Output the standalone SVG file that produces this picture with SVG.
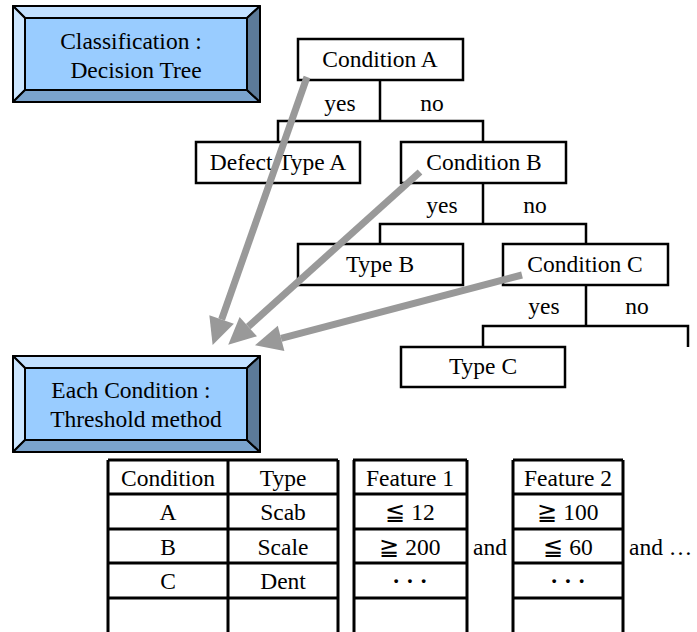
<svg xmlns="http://www.w3.org/2000/svg" xmlns:xlink="http://www.w3.org/1999/xlink" width="697" height="632" viewBox="0 0 697 632">
<style>
text{font-family:"Liberation Serif","Times New Roman",serif;font-size:23.5px;fill:#000}
.c{text-anchor:middle}
.box{fill:#fff;stroke:#000;stroke-width:2.5}
.ln{fill:none;stroke:#000;stroke-width:2.5}
.tb{fill:none;stroke:#000;stroke-width:3}
.ar{fill:none;stroke:#999;stroke-width:7}
.bv{stroke:#000;stroke-width:2;stroke-linejoin:round}
.dots{font-weight:bold}
</style>
<defs>
<marker id="ah" markerUnits="userSpaceOnUse" markerWidth="40" markerHeight="40" refX="0" refY="14" orient="auto" viewBox="0 0 40 40" overflow="visible">
<path d="M0,1 L27,14 L0,27 z" fill="#999"/>
</marker>
<g id="bevel">
<polygon class="bv" points="13,6 260,6 247,18 25,18" fill="#C2E0FF"/>
<polygon class="bv" points="13,6 25,18 25,90 13,102" fill="#CCE6FF"/>
<polygon class="bv" points="13,102 25,90 247,90 260,102" fill="#7AA3CC"/>
<polygon class="bv" points="260,6 260,102 247,90 247,18" fill="#5C7A99"/>
<rect class="bv" x="25" y="18" width="222" height="72" fill="#99CCFF"/>
</g>
</defs>

<g id="title-classification">
<use xlink:href="#bevel"/>
<text class="c" x="131" y="49">Classification :</text>
<text class="c" x="136" y="78">Decision Tree</text>
</g>

<g id="title-threshold">
<use xlink:href="#bevel" y="350"/>
<text class="c" x="131" y="398">Each Condition :</text>
<text class="c" x="136" y="427">Threshold method</text>
</g>

<g id="connectors">
<path class="ln" d="M380,80 V121 M278,142 V121 H483 V142"/>
<path class="ln" d="M483,183 V224 M380,244 V224 H586 V244"/>
<path class="ln" d="M586,285 V326 M483,347 V326 H688 V347"/>
<text class="c" x="340" y="111">yes</text>
<text class="c" x="432" y="111">no</text>
<text class="c" x="442" y="213">yes</text>
<text class="c" x="535" y="213">no</text>
<text class="c" x="544" y="314">yes</text>
<text class="c" x="637" y="314">no</text>
</g>

<g id="condition-a"><rect class="box" x="298" y="39" width="165" height="41"/><text class="c" x="380" y="67">Condition A</text></g>
<g id="defect-type-a"><rect class="box" x="196" y="142" width="164" height="41"/><text class="c" x="278" y="170">Defect Type A</text></g>
<g id="condition-b"><rect class="box" x="401" y="142" width="165" height="41"/><text class="c" x="484" y="170">Condition B</text></g>
<g id="type-b"><rect class="box" x="298" y="244" width="165" height="41"/><text class="c" x="380" y="272">Type B</text></g>
<g id="condition-c"><rect class="box" x="503" y="244" width="165" height="41"/><text class="c" x="585" y="272">Condition C</text></g>
<g id="type-c"><rect class="box" x="401" y="347" width="164" height="40"/><text class="c" x="483" y="374">Type C</text></g>

<g id="arrows">
<line class="ar" x1="307" y1="77" x2="221.6" y2="319.5" marker-end="url(#ah)"/>
<line class="ar" x1="420" y1="172" x2="248.3" y2="326.6" marker-end="url(#ah)"/>
<line class="ar" x1="522" y1="275" x2="281.1" y2="338.4" marker-end="url(#ah)"/>
</g>

<g id="table-type">
<path class="tb" d="M108,460 H338 M108,494 H338 M108,529 H338 M108,563 H338 M108,598 H338 M108,460 V640 M228,460 V640 M338,460 V640"/>
<text class="c" x="168" y="486">Condition</text>
<text class="c" x="283" y="486">Type</text>
<text class="c" x="168" y="520">A</text>
<text class="c" x="283" y="520">Scab</text>
<text class="c" x="168" y="555">B</text>
<text class="c" x="283" y="555">Scale</text>
<text class="c" x="168" y="589">C</text>
<text class="c" x="283" y="589">Dent</text>
</g>

<g id="table-feature1">
<path class="tb" d="M353,460 H467 M353,494 H467 M353,529 H467 M353,563 H467 M353,598 H467 M354,460 V640 M467,460 V640"/>
<text class="c" x="410" y="486">Feature 1</text>
<text class="c" x="410" y="520">≦ 12</text>
<text class="c" x="410" y="555">≧ 200</text>
<text class="c dots" x="410" y="589">· · ·</text>
</g>

<text class="c" x="490" y="555">and</text>

<g id="table-feature2">
<path class="tb" d="M513,460 H623 M513,494 H623 M513,529 H623 M513,563 H623 M513,598 H623 M513,460 V640 M623,460 V640"/>
<text class="c" x="568" y="486">Feature 2</text>
<text class="c" x="568" y="520">≧ 100</text>
<text class="c" x="568" y="555">≦ 60</text>
<text class="c dots" x="568" y="589">· · ·</text>
</g>

<text x="629" y="555">and …</text>
</svg>
